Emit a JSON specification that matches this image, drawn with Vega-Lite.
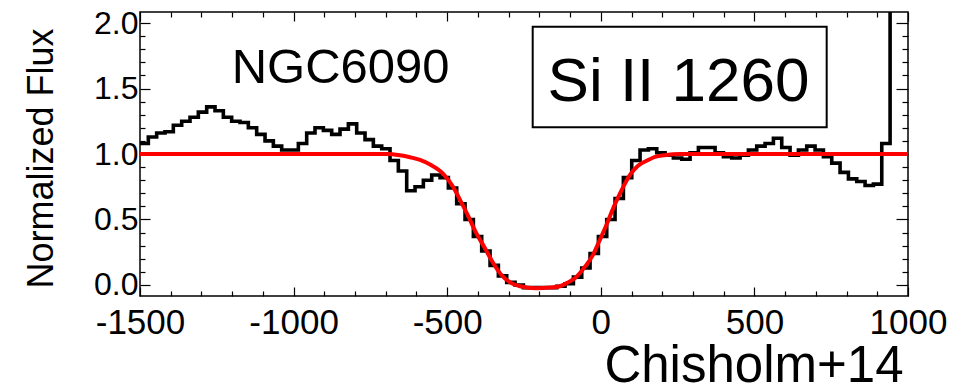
{
  "$schema": "https://vega.github.io/schema/vega-lite/v6.json",
  "width": 768,
  "height": 284,
  "autosize": "none",
  "padding": {"left": 140, "top": 12, "right": 65, "bottom": 94},
  "background": "white",
  "config": {
    "view": {"stroke": "black", "strokeWidth": 1.5},
    "font": "Liberation Sans",
    "axis": {"grid": false, "domain": false, "tickColor": "black", "tickWidth": 1.2, "labelColor": "black", "titleColor": "black", "labelFont": "Liberation Sans", "titleFont": "Liberation Sans", "titleFontWeight": "normal"}
  },
  "resolve": {"axis": {"x": "independent", "y": "independent"}},
  "datasets": {
    "hist": [
      {"v": -1500, "f": 1.08}, {"v": -1472.9, "f": 1.13}, {"v": -1445.7, "f": 1.16}, {"v": -1418.6, "f": 1.17},
      {"v": -1391.5, "f": 1.22}, {"v": -1364.3, "f": 1.25}, {"v": -1337.2, "f": 1.28}, {"v": -1310.1, "f": 1.32},
      {"v": -1282.9, "f": 1.36}, {"v": -1255.8, "f": 1.33}, {"v": -1228.7, "f": 1.28}, {"v": -1201.6, "f": 1.25},
      {"v": -1174.4, "f": 1.24}, {"v": -1147.3, "f": 1.20}, {"v": -1120.2, "f": 1.15}, {"v": -1093.0, "f": 1.10},
      {"v": -1065.9, "f": 1.06}, {"v": -1038.8, "f": 1.03}, {"v": -1011.7, "f": 1.03}, {"v": -984.5, "f": 1.08},
      {"v": -957.4, "f": 1.16}, {"v": -930.3, "f": 1.20}, {"v": -903.1, "f": 1.18}, {"v": -876.0, "f": 1.15},
      {"v": -848.9, "f": 1.19}, {"v": -821.7, "f": 1.23}, {"v": -794.6, "f": 1.16}, {"v": -767.5, "f": 1.11},
      {"v": -740.4, "f": 1.06}, {"v": -713.2, "f": 1.04}, {"v": -686.1, "f": 0.95}, {"v": -659.0, "f": 0.87},
      {"v": -631.8, "f": 0.72}, {"v": -604.7, "f": 0.75}, {"v": -577.6, "f": 0.80}, {"v": -550.4, "f": 0.84},
      {"v": -523.3, "f": 0.82}, {"v": -496.2, "f": 0.74}, {"v": -469.1, "f": 0.62}, {"v": -441.9, "f": 0.50},
      {"v": -414.8, "f": 0.37}, {"v": -387.7, "f": 0.26}, {"v": -360.5, "f": 0.15}, {"v": -333.4, "f": 0.07},
      {"v": -306.3, "f": 0.02}, {"v": -279.1, "f": 0.0}, {"v": -252.0, "f": -0.02}, {"v": -224.9, "f": -0.02},
      {"v": -197.8, "f": -0.02}, {"v": -170.6, "f": -0.02}, {"v": -143.5, "f": -0.01}, {"v": -116.4, "f": 0.01},
      {"v": -89.2, "f": 0.06}, {"v": -62.1, "f": 0.13}, {"v": -35.0, "f": 0.24}, {"v": -7.8, "f": 0.37},
      {"v": 19.3, "f": 0.50}, {"v": 46.4, "f": 0.66}, {"v": 73.5, "f": 0.82}, {"v": 100.7, "f": 0.95},
      {"v": 127.8, "f": 1.03}, {"v": 154.9, "f": 1.04}, {"v": 182.1, "f": 1.01}, {"v": 209.2, "f": 0.99},
      {"v": 236.3, "f": 0.97}, {"v": 263.5, "f": 0.96}, {"v": 290.6, "f": 1.01}, {"v": 317.7, "f": 1.05},
      {"v": 344.8, "f": 1.05}, {"v": 372.0, "f": 1.01}, {"v": 399.1, "f": 0.98}, {"v": 426.2, "f": 0.97},
      {"v": 453.4, "f": 0.99}, {"v": 480.5, "f": 1.03}, {"v": 507.6, "f": 1.06}, {"v": 534.8, "f": 1.08},
      {"v": 561.9, "f": 1.12}, {"v": 589.0, "f": 1.05}, {"v": 616.1, "f": 0.99}, {"v": 643.3, "f": 1.03},
      {"v": 670.4, "f": 1.06}, {"v": 697.5, "f": 1.03}, {"v": 724.7, "f": 0.98}, {"v": 751.8, "f": 0.93},
      {"v": 778.9, "f": 0.86}, {"v": 806.1, "f": 0.81}, {"v": 833.2, "f": 0.79}, {"v": 860.3, "f": 0.76},
      {"v": 887.4, "f": 0.77}, {"v": 914.6, "f": 1.08}, {"v": 941.7, "f": 3.0}
    ],
    "fit": [
      {"v": -1500, "f": 1.0}, {"v": -696.9, "f": 1.0}, {"v": -653.6, "f": 0.99}, {"v": -621.1, "f": 0.975},
      {"v": -588.5, "f": 0.955}, {"v": -556.0, "f": 0.92}, {"v": -513.7, "f": 0.85}, {"v": -481.1, "f": 0.75},
      {"v": -458.3, "f": 0.65}, {"v": -432.3, "f": 0.53}, {"v": -406.2, "f": 0.40}, {"v": -377.0, "f": 0.28},
      {"v": -350.9, "f": 0.17}, {"v": -324.9, "f": 0.08}, {"v": -295.6, "f": 0.02}, {"v": -263.0, "f": -0.01},
      {"v": -211.0, "f": -0.025}, {"v": -165.4, "f": -0.02}, {"v": -132.8, "f": -0.01}, {"v": -106.8, "f": 0.02},
      {"v": -80.7, "f": 0.06}, {"v": -51.4, "f": 0.14}, {"v": -25.4, "f": 0.23}, {"v": -5.9, "f": 0.33},
      {"v": 16.9, "f": 0.45}, {"v": 42.9, "f": 0.60}, {"v": 69.0, "f": 0.73}, {"v": 95.0, "f": 0.84},
      {"v": 121.1, "f": 0.91}, {"v": 150.4, "f": 0.95}, {"v": 179.7, "f": 0.98}, {"v": 205.7, "f": 0.99},
      {"v": 257.8, "f": 1.0}, {"v": 1000, "f": 1.0}
    ],
    "box": [{"x1": -221.7, "x2": 735.3, "y1": 1.972, "y2": 1.205}],
    "line": [{"x": 253, "y": 1.402, "t": "Si II 1260"}],
    "galaxy": [{"x": -1201.5, "y": 1.544, "t": "NGC6090"}]
  },
  "layer": [
    {
      "data": {"name": "hist"},
      "mark": {"type": "line", "interpolate": "step-after", "color": "black", "strokeWidth": 3.6, "clip": true},
      "encoding": {
        "x": {"field": "v", "type": "quantitative", "scale": {"domain": [-1500, 1000], "nice": false, "zero": false},
          "axis": {"orient": "bottom", "values": [-1500, -1000, -500, 0, 500, 1000], "tickSize": -9, "labelFontSize": 35, "labelPadding": 18, "labelFlush": false, "labelOverlap": false,
            "labelExpr": "datum.value < 0 ? '-' + abs(datum.value) : '' + datum.value",
            "title": "Chisholm+14", "titleFontSize": 51, "titleX": 763, "titleY": 85, "titleAlign": "right", "titleBaseline": "alphabetic"}},
        "y": {"field": "f", "type": "quantitative", "scale": {"domain": [-0.084, 2.084], "nice": false, "zero": false},
          "axis": {"orient": "left", "values": [0, 0.5, 1, 1.5, 2], "format": ".1f", "tickSize": -10, "labelFontSize": 32, "labelPadding": 12,
            "title": "Normalized Flux", "titleFontSize": 36, "titleX": -88, "titleY": 146, "titleAngle": -90, "titleAlign": "center", "titleBaseline": "alphabetic"}}
      }
    },
    {
      "data": {"name": "fit"},
      "mark": {"type": "line", "interpolate": "monotone", "color": "#ff0000", "strokeWidth": 4, "clip": true},
      "encoding": {
        "x": {"field": "v", "type": "quantitative", "scale": {"domain": [-1500, 1000], "nice": false, "zero": false},
          "axis": {"orient": "bottom", "values": [-1400, -1300, -1200, -1100, -900, -800, -700, -600, -400, -300, -200, -100, 100, 200, 300, 400, 600, 700, 800, 900], "tickSize": -5, "labels": false, "title": null}},
        "y": {"field": "f", "type": "quantitative", "scale": {"domain": [-0.084, 2.084], "nice": false, "zero": false},
          "axis": {"orient": "left", "values": [0.1, 0.2, 0.3, 0.4, 0.6, 0.7, 0.8, 0.9, 1.1, 1.2, 1.3, 1.4, 1.6, 1.7, 1.8, 1.9], "tickSize": -5, "labels": false, "title": null}}
      }
    },
    {
      "data": {"name": "box"},
      "mark": {"type": "rect", "filled": false, "stroke": "black", "strokeWidth": 2},
      "encoding": {
        "x": {"field": "x1", "type": "quantitative", "scale": {"domain": [-1500, 1000], "nice": false, "zero": false},
          "axis": {"orient": "top", "values": [-1500, -1000, -500, 0, 500, 1000], "tickSize": -9, "labels": false, "title": null}},
        "x2": {"field": "x2"},
        "y": {"field": "y1", "type": "quantitative", "scale": {"domain": [-0.084, 2.084], "nice": false, "zero": false},
          "axis": {"orient": "right", "values": [0, 0.5, 1, 1.5, 2], "tickSize": -12, "labels": false, "title": null}},
        "y2": {"field": "y2"}
      }
    },
    {
      "data": {"name": "line"},
      "mark": {"type": "text", "fontSize": 62, "font": "Liberation Sans", "align": "center", "baseline": "alphabetic", "color": "black"},
      "encoding": {
        "x": {"field": "x", "type": "quantitative", "scale": {"domain": [-1500, 1000], "nice": false, "zero": false},
          "axis": {"orient": "top", "values": [-1400, -1300, -1200, -1100, -900, -800, -700, -600, -400, -300, -200, -100, 100, 200, 300, 400, 600, 700, 800, 900], "tickSize": -5, "labels": false, "title": null}},
        "y": {"field": "y", "type": "quantitative", "scale": {"domain": [-0.084, 2.084], "nice": false, "zero": false},
          "axis": {"orient": "right", "values": [0.1, 0.2, 0.3, 0.4, 0.6, 0.7, 0.8, 0.9, 1.1, 1.2, 1.3, 1.4, 1.6, 1.7, 1.8, 1.9], "tickSize": -6, "labels": false, "title": null}},
        "text": {"field": "t"}
      }
    },
    {
      "data": {"name": "galaxy"},
      "mark": {"type": "text", "fontSize": 49, "font": "Liberation Sans", "align": "left", "baseline": "alphabetic", "color": "black"},
      "encoding": {
        "x": {"field": "x", "type": "quantitative", "scale": {"domain": [-1500, 1000], "nice": false, "zero": false}, "axis": null},
        "y": {"field": "y", "type": "quantitative", "scale": {"domain": [-0.084, 2.084], "nice": false, "zero": false}, "axis": null},
        "text": {"field": "t"}
      }
    }
  ]
}
